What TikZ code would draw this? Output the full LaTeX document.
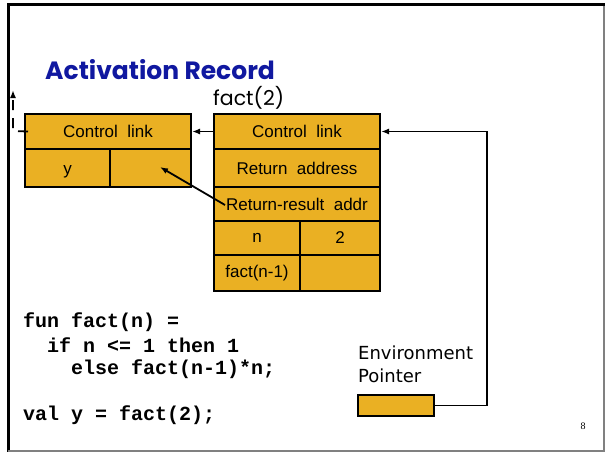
\documentclass[tikz,border=0pt]{standalone}
\usepackage{fontspec}
\setmainfont{DejaVu Sans}
\newfontfamily\boxfont{Liberation Sans}
\newfontfamily\codefont{Liberation Mono}
\newfontfamily\titlefont{Poppins}
\newfontfamily\numfont{Liberation Serif}
\usetikzlibrary{arrows.meta,calc}
\definecolor{gold}{RGB}{234,176,35}
\definecolor{titleblue}{RGB}{16,24,160}
\begin{document}
\begin{tikzpicture}[x=1pt,y=-1pt,
  cell/.style={draw=black, line width=2pt, fill=gold, inner sep=0pt, anchor=north west, font=\boxfont\fontsize{17}{19}\selectfont},
  link/.style={line width=1.8pt, -{Latex[length=8pt,width=6pt]}},
  code/.style={anchor=base west, inner sep=0pt, font=\codefont\bfseries\fontsize{20}{22}\selectfont}]
\useasboundingbox (0,0) rectangle (605,452);
% frame
\draw[line width=3pt] (8,452) -- (8,5) -- (605,5);
\draw[gray, line width=1.5pt] (604,6) -- (604,451) -- (8,451);
% title
\node[anchor=base west, inner sep=0pt, text=titleblue, font=\titlefont\bfseries\fontsize{25}{27}\selectfont] (title) at (45,80) {Activation Record};
\node[anchor=base west, inner sep=0pt, font=\titlefont\fontsize{20.5}{22}\selectfont] (f2) at (213,106) {fact(2)};
% left record
\node[cell, minimum width=166, minimum height=35] (lcl) at (24,113) {Control\ \ link};
\node[cell, minimum width=85, minimum height=38] (ly) at (24,148) {};
\node[inner sep=0pt, font=\boxfont\fontsize{17}{19}\selectfont] (ytxt) at ($(ly.center)+(0,4)$) {y};
\node[cell, minimum width=81, minimum height=38] (lv) at (109,148) {};
% right record
\node[cell, minimum width=166, minimum height=35] (rcl) at (213,113) {Control\ \ link};
\node[cell, minimum width=166, minimum height=38] (rra) at (213,148) {Return\ \ address};
\node[cell, minimum width=166, minimum height=34] (rrr) at (213,186) {Return-result\ \ addr};
\node[cell, minimum width=86, minimum height=34] (rn) at (213,220) {n};
\node[cell, minimum width=80, minimum height=34] (r2) at (299,220) {2};
\node[cell, minimum width=86, minimum height=36] (rf) at (213,254) {fact(n-1)};
\node[cell, minimum width=80, minimum height=36] (rfv) at (299,254) {};
% environment pointer
\node[anchor=north west, inner sep=0pt, align=left, font=\fontsize{18}{23}\selectfont] (envt) at (358,346) {Environment\\Pointer};
\node[cell, minimum width=76, minimum height=21] (env) at (357,394) {};
% code
\node[code] (c1) at (23,327) {fun fact(n) =};
\node[code] (c2) at (47,352) {if n <= 1 then 1};
\node[code] (c3) at (71,374) {else fact(n-1)*n;};
\node[code] (c4) at (23,420) {val y = fact(2);};
\node[anchor=base, inner sep=0pt, font=\numfont\fontsize{10}{11}\selectfont] (pg) at (583,429) {8};
% connectors
\draw[link] (rcl.west) -- (lcl.east);
\coordinate (corner) at (487,405);
\draw[link] (env.east) -- (corner |- env.east) |- (rcl.east);
\coordinate (rrs) at (225,205);
\coordinate (ytip) at (160,167);
\draw[link] (rrs) -- (ytip);
\coordinate (dk) at (13,131);
\coordinate (up) at (13,90);
\draw[line width=1.8pt, dash pattern=on 10pt off 8pt, -{Latex[length=8pt,width=6pt]}] ($(lcl.west)+(4,0)$) -- (dk) -- (up);
\end{tikzpicture}
\end{document}
